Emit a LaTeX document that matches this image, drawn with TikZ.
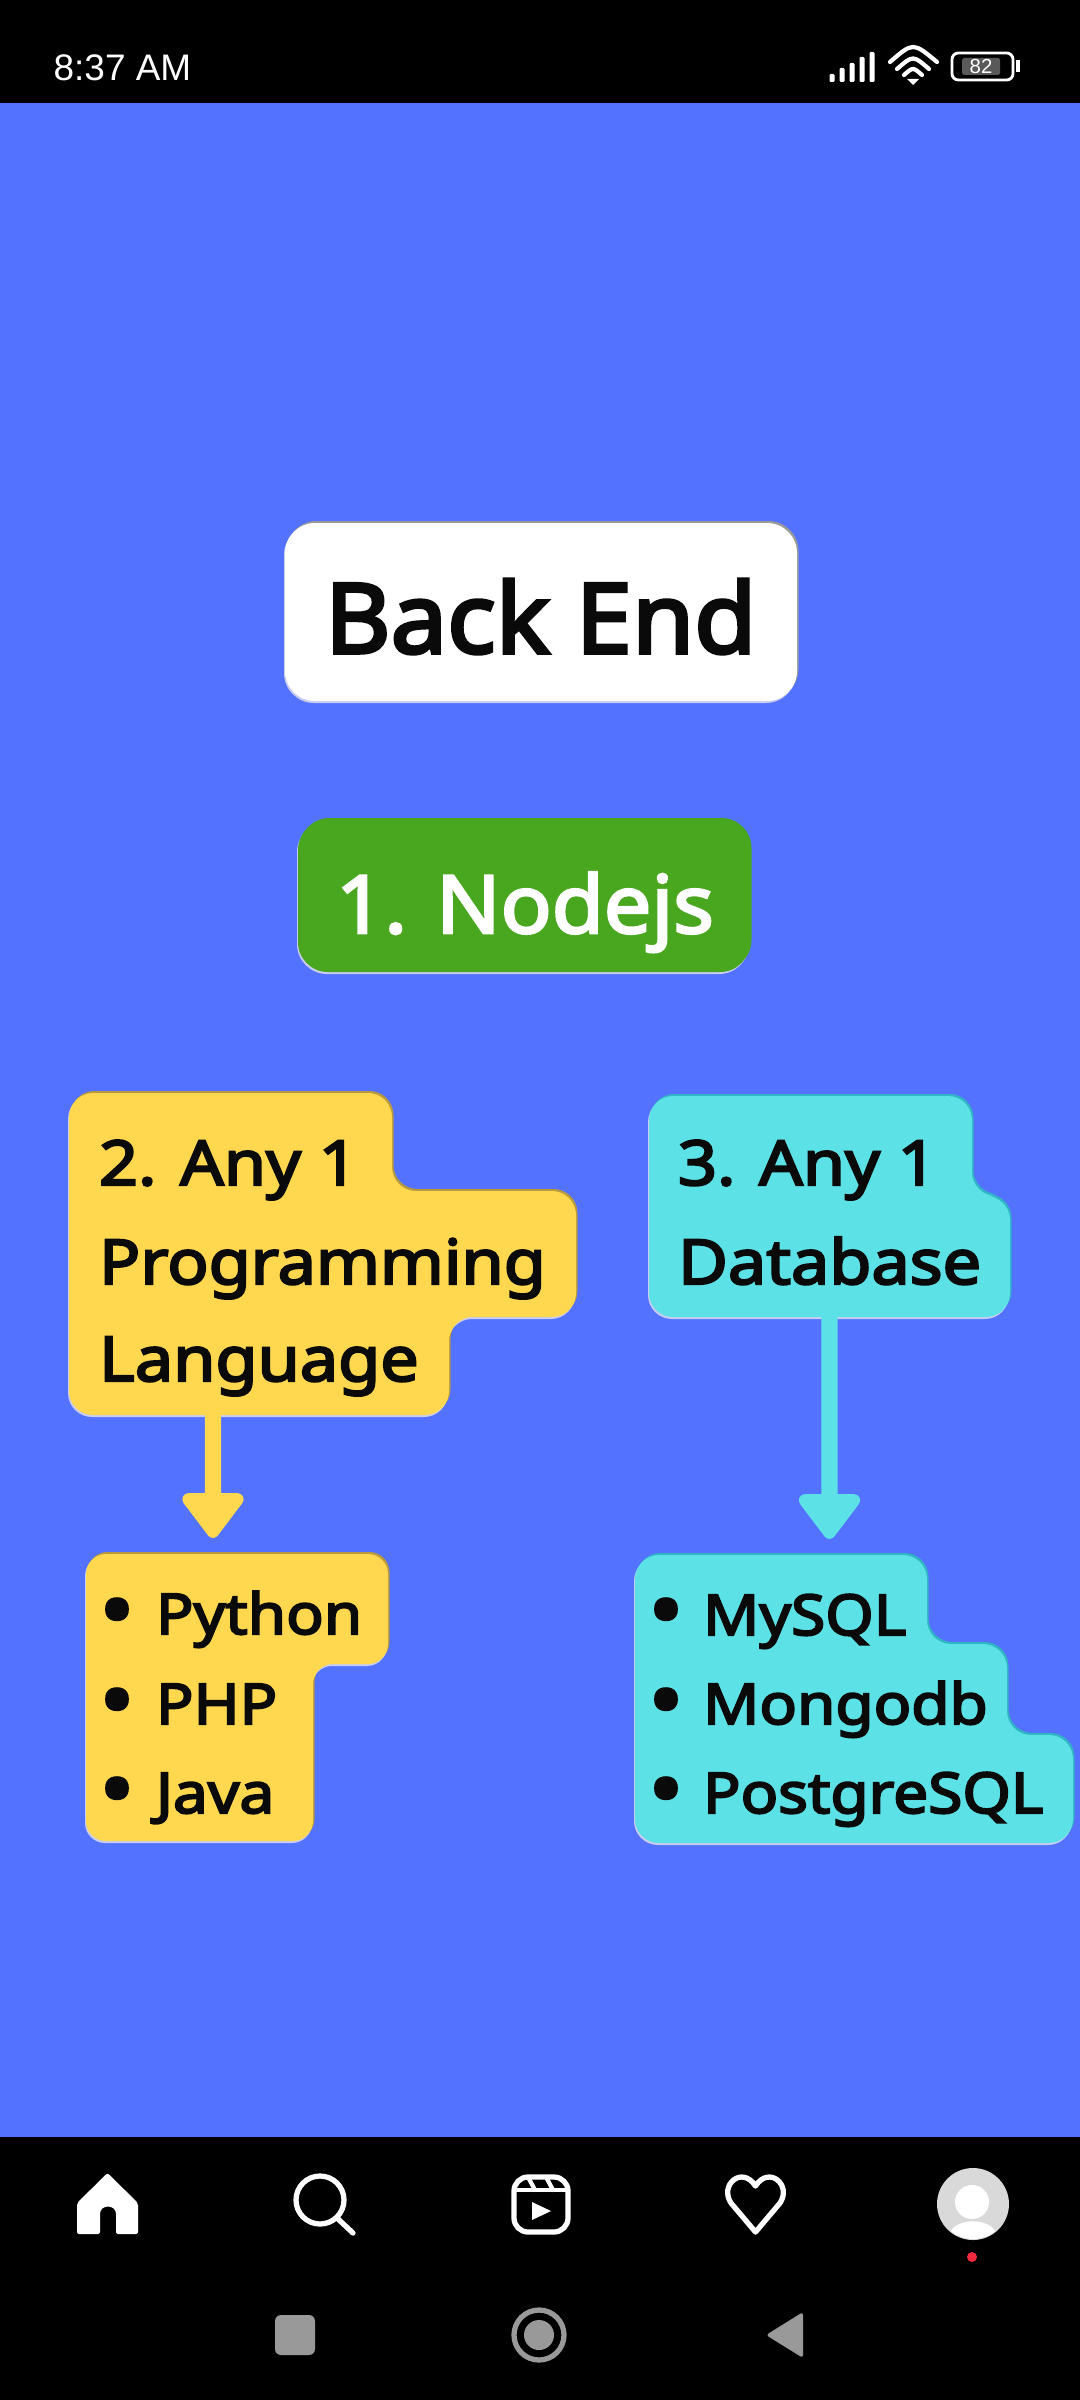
\documentclass[tikz,border=0pt]{standalone}
\usepackage{fontspec}
\setmainfont{Noto Sans}[AutoFakeBold=3.6,FakeStretch=1.105]
\newfontfamily\statusfont{Liberation Sans}
\newfontfamily\backendfont{Noto Sans}[AutoFakeBold=3.6,FakeStretch=1.04]
\newfontfamily\nodejsfont{Noto Sans}[AutoFakeBold=3.2,FakeStretch=1.055]
\usetikzlibrary{arrows.meta}
\definecolor{bgblue}{HTML}{5272FF}
\definecolor{yel}{HTML}{FFD850}
\definecolor{yeldark}{HTML}{B89A3C}
\definecolor{cya}{HTML}{5CE1E6}
\definecolor{cyadark}{HTML}{2FB5C4}
\definecolor{paleedge}{HTML}{C8CCF0}
\definecolor{grn}{HTML}{48A71E}
\definecolor{navgray}{HTML}{999999}
\definecolor{avatar}{HTML}{D9D9D9}
\definecolor{inkblack}{HTML}{0A0A0A}
\definecolor{reddot}{HTML}{F5293F}
\newcommand{\lobed}[4]{% fill, top-edge colour, radius, path
  \fill[#2,rounded corners=#3,shift={(1.5,-2)}] #4;
  \fill[paleedge,rounded corners=#3,shift={(-1,2)}] #4;
  \fill[#1,rounded corners=#3] #4;}
\tikzset{
  txt/.style={anchor=base west,inner sep=0pt,outer sep=0pt,text=inkblack,font=\bfseries},
  headtxt/.style={txt,font=\fontsize{17.6}{20}\bfseries\selectfont},
  itemtxt/.style={txt,font=\fontsize{16}{18}\bfseries\selectfont},
  bullettxt/.style={anchor=base,inner sep=0pt,outer sep=0pt,text=inkblack,font=\fontsize{24}{26}\bfseries\selectfont},
  hitbox/.style={inner sep=0pt,outer sep=0pt,draw=none,fill=none},
  arrowY/.style={draw=yel,line width=4.6pt,shorten >=0.16cm,
    -{Triangle[length=14pt,width=20pt,round,fill=yel]}},
  arrowC/.style={draw=cya,line width=4.6pt,shorten >=0.16cm,
    -{Triangle[length=14pt,width=20pt,round,fill=cya]}},
  wht/.style={draw=white,line width=1.5pt,line cap=round,line join=round},
  gry/.style={fill=navgray},
}
\begin{document}
\begin{tikzpicture}[x=0.01cm,y=-0.01cm]
\useasboundingbox (0,0) rectangle (1080,2400);
\fill[black] (0,0) rectangle (1080,2400);
\fill[bgblue] (0,103) rectangle (1080,2137);

% status bar
\node[anchor=base west,inner sep=0pt,text=white,font=\statusfont\fontsize{10.5}{12}\selectfont] (clock) at (53,81) {8:37 AM};
\foreach \sx/\sy in {832/74,842/68,852/63,862/57,872/52}
  \fill[white,rounded corners=0.3pt] (\sx-2.5,\sy) rectangle (\sx+2.5,82);
\draw[wht,line width=1.2pt] (890,62) .. controls (913,42) .. (937,62);
\draw[wht,line width=1.2pt] (897,69) .. controls (913,55) .. (929,69);
\draw[wht,line width=1.2pt] (904,75) .. controls (913,67) .. (922,75);
\fill[white] (907,79) -- (913,85) -- (919,79) -- cycle;
\draw[white,line width=0.8pt,rounded corners=1.8pt] (952,53) rectangle (1013,80);
\fill[white!35!black,rounded corners=0.5pt] (962,58) rectangle (1000,75);
\fill[white] (1016,60) rectangle (1020,72);
\node[inner sep=0pt,text=white,font=\statusfont\fontsize{5.8}{6}\selectfont] (batt) at (981,66.5) {82};

% title boxes
\lobed{white}{navgray}{0.3cm}{(285,523) rectangle (797,701)}
\node[txt,font=\backendfont\fontsize{27.6}{30}\bfseries\selectfont] (backend) at (325,653) {Back End};
\lobed{grn}{grn}{0.3cm}{(298,820) rectangle (750,972)}
\node[txt,text=white,font=\nodejsfont\fontsize{22.8}{25}\bfseries\selectfont] (nodejs) at (336,933) {1. Nodejs};

% yellow and cyan shapes
\lobed{yel}{yeldark}{0.24cm}{(69,1093) -- (392,1093) -- (392,1191) -- (576,1191) -- (576,1317) -- (449,1317) -- (449,1415) -- (69,1415) -- cycle}
\lobed{yel}{yeldark}{0.2cm}{(86,1554) -- (388,1554) -- (388,1664) -- (313,1664) -- (313,1841) -- (86,1841) -- cycle}
\lobed{cya}{cyadark}{0.24cm}{(649,1096) -- (972,1096) -- (972,1196) -- (1010,1196) -- (1010,1317) -- (649,1317) -- cycle}
\lobed{cya}{cyadark}{0.24cm}{(635,1555) -- (927,1555) -- (927,1644) -- (1007,1644) -- (1007,1735) -- (1073,1735) -- (1073,1843) -- (635,1843) -- cycle}

% hit boxes for connectors
\node[hitbox,minimum width=5.07cm,minimum height=3.22cm] (langbox) at (322.5,1254) {};
\node[hitbox,minimum width=3.02cm,minimum height=2.87cm] (pylist) at (237,1697.5) {};
\node[hitbox,minimum width=3.61cm,minimum height=2.21cm] (dbbox) at (829.5,1206.5) {};
\node[hitbox,minimum width=4.38cm,minimum height=2.88cm] (dblist) at (854,1699) {};
\draw[arrowY] ([xshift=-1.095cm]langbox.south) -- ([xshift=-0.24cm]pylist.north);
\draw[arrowC] (dbbox.south) -- ([xshift=-0.245cm]dblist.north);

% texts
\node[headtxt] (l1) at (99,1185) {2. Any 1};
\node[headtxt] (l2) at (99,1284) {Programming};
\node[headtxt] (l3) at (99,1381) {Language};
\node[headtxt] (d1) at (678,1185) {3. Any 1};
\node[headtxt] (d2) at (678,1284) {Database};
\foreach \nm/\bx/\by in {b1/117/1640,b2/117/1730,b3/117/1819,b4/666/1640,b5/666/1730,b6/666/1819}
  \node[bullettxt] (\nm) at (\bx,\by) {•};
\node[itemtxt] (py) at (156,1634) {Python};
\node[itemtxt] (php) at (156,1724) {PHP};
\node[itemtxt] (java) at (156,1813) {Java};
\node[itemtxt] (my) at (703,1635) {MySQL};
\node[itemtxt] (mongo) at (703,1724) {Mongodb};
\node[itemtxt] (pg) at (703,1813) {PostgreSQL};

% navigation bar
\fill[white,rounded corners=0.6pt] (107.5,2173) -- (138,2203) -- (138,2234) -- (116,2234) -- (116,2216) .. controls (116,2204) and (100,2204) .. (100,2216) -- (100,2234) -- (77,2234) -- (77,2203) -- cycle;
\draw[wht,line width=1.5pt] (320,2200) circle[radius=24];
\draw[wht,line width=1.5pt] (337,2218) -- (353,2233);
\draw[wht,rounded corners=0.14cm] (514,2177) rectangle (568,2232);
\draw[wht,line width=1.2pt] (514,2190) -- (568,2190);
\draw[wht,line width=1.2pt] (528,2177) -- (535,2190);
\draw[wht,line width=1.2pt] (546,2177) -- (553,2190);
\fill[white] (532,2202) -- (551,2211) -- (532,2220) -- cycle;
\draw[wht] (755.5,2232) -- (731,2203) .. controls (719,2185) and (742,2165) .. (755.5,2186) .. controls (769,2165) and (792,2185) .. (780,2203) -- cycle;
\fill[avatar] (973,2204) circle[radius=36];
\fill[white] (972,2202) circle[radius=17];
\begin{scope}
  \clip (973,2204) circle[radius=35];
  \fill[white] (948,2240) .. controls (948,2215) and (998,2215) .. (998,2240) -- cycle;
\end{scope}
\fill[reddot] (972,2257) circle[radius=5];
\fill[gry,rounded corners=0.06cm] (275,2315) rectangle (315,2355);
\draw[navgray,line width=1.5pt] (539,2335) circle[radius=25];
\fill[gry] (539,2335) circle[radius=15];
\fill[gry,rounded corners=0.03cm] (803,2312) -- (803,2358) -- (766,2335) -- cycle;
\end{tikzpicture}
\end{document}
